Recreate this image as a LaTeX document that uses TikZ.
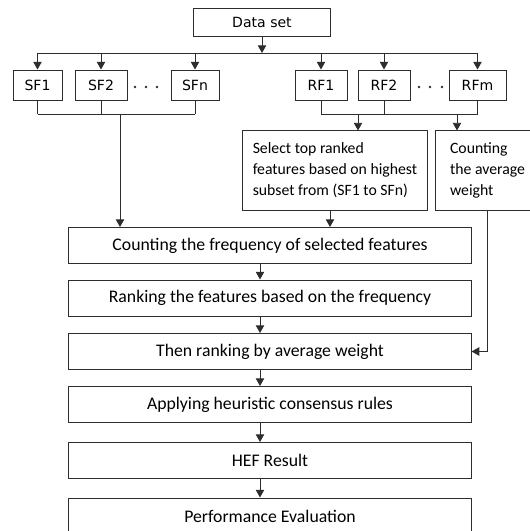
\documentclass[tikz,border=0pt]{standalone}
\usepackage{tikz}
\usetikzlibrary{calc}
\usetikzlibrary{arrows.meta}
\usepackage{fontspec}
\setmainfont{Carlito}
\newfontfamily\labelfont{DejaVu Sans}
\definecolor{edgegray}{RGB}{45, 45, 45}

\begin{document}
\begin{tikzpicture}[x=0.025cm, y=-0.025cm,
        conn/.style={draw=edgegray, line width=0.7pt},
        arr/.style={conn, -{Triangle[length=5.5pt,width=6pt]}},
        topbox/.style={draw=edgegray, line width=0.7pt, minimum width=1.25cm, minimum height=0.75cm, inner sep=0pt,
                       font=\labelfont\fontsize{10}{12}\selectfont},
        mainbox/.style={draw=edgegray, line width=0.7pt, minimum width=10.05cm, minimum height=0.9cm, inner sep=0pt,
                        font=\fontsize{12.6}{14}\selectfont},
        notebox/.style={draw=edgegray, line width=0.7pt, minimum height=1.975cm, align=left, inner sep=0pt,
                        font=\fontsize{11.2}{15}\selectfont}]
    \useasboundingbox (0,0) rectangle (529,531);
    % top row
    \node[topbox, minimum width=3.4cm, minimum height=0.7cm] (data) at (262,22) {Data set};
    \node[topbox, minimum width=1.225cm] (sf1) at ( 37.5,85) {SF1};
    \node[topbox, minimum width=1.3cm]   (sf2) at (101.0,85) {SF2};
    \node[topbox, minimum width=1.2cm]   (sfn) at (195.0,85) {SFn};
    \node[topbox, minimum width=1.3cm]   (rf1) at (321.0,85) {RF1};
    \node[topbox, minimum width=1.3cm]   (rf2) at (384.0,85) {RF2};
    \node[topbox, minimum width=1.425cm] (rfm) at (477.5,85) {RFm};
    \foreach \x in {135,146,157,419,430,442}
        \fill[edgegray] (\x,87) circle (1.4);
    % side boxes
    \node[notebox, minimum width=4.6cm]   (sel) at (335.0,170.5)
        {Select top ranked\\features based on highest\\subset from (SF1 to SFn)};
    \node[notebox, minimum width=2.625cm] (avg) at (487.5,170.5)
        {Counting\\the average\\weight};
    % main chain
    \node[mainbox] (freq) at (270,245.5) {Counting the frequency of selected features};
    \node[mainbox] (rank) at (270,298.0) {Ranking the features based on the frequency};
    \node[mainbox] (then) at (270,351.5) {Then ranking by average weight};
    \node[mainbox] (heur) at (270,404.5) {Applying heuristic consensus rules};
    \node[mainbox] (hef)  at (270,460.5) {HEF Result};
    \node[mainbox] (perf) at (270,516.0) {Performance Evaluation};
    % buses
    \coordinate (topbus) at (262,53);
    \coordinate (sfbus)  at (120,114);
    \coordinate (rfbus)  at (358,114);
    \coordinate (avgin)  at (457,114);
    \draw[arr]  (data) -- (topbus);
    \draw[conn] (topbus -| sf1) -- (topbus -| rfm);
    \foreach \n in {sf1,sf2,sfn,rf1,rf2,rfm}
        \draw[arr] (topbus -| \n) -- (\n.north);
    \foreach \n in {sf1,sf2,sfn}
        \draw[conn] (\n.south) -- (sfbus -| \n);
    \foreach \n in {rf1,rf2,rfm}
        \draw[conn] (\n.south) -- (rfbus -| \n);
    \draw[conn] (sfbus -| sf1) -- (sfbus -| sfn);
    \draw[conn] (rfbus -| rf1) -- (rfbus -| rfm);
    \draw[arr]  (sfbus) -- (sfbus |- freq.north);
    \draw[arr]  (rfbus) -- (rfbus |- sel.north);
    \draw[arr]  (avgin) -- (avgin |- avg.north);
    \draw[arr]  ([xshift=-0.125cm]sel.south) -- ([xshift=-0.125cm]sel.south |- freq.north);
    \foreach \a/\b in {freq/rank,rank/then,then/heur,heur/hef,hef/perf}
        \draw[arr] ([xshift=-0.25cm]\a.south) -- ([xshift=-0.25cm]\b.north);
    \draw[arr]  (avg.south) |- (then.east);
\end{tikzpicture}
\end{document}
